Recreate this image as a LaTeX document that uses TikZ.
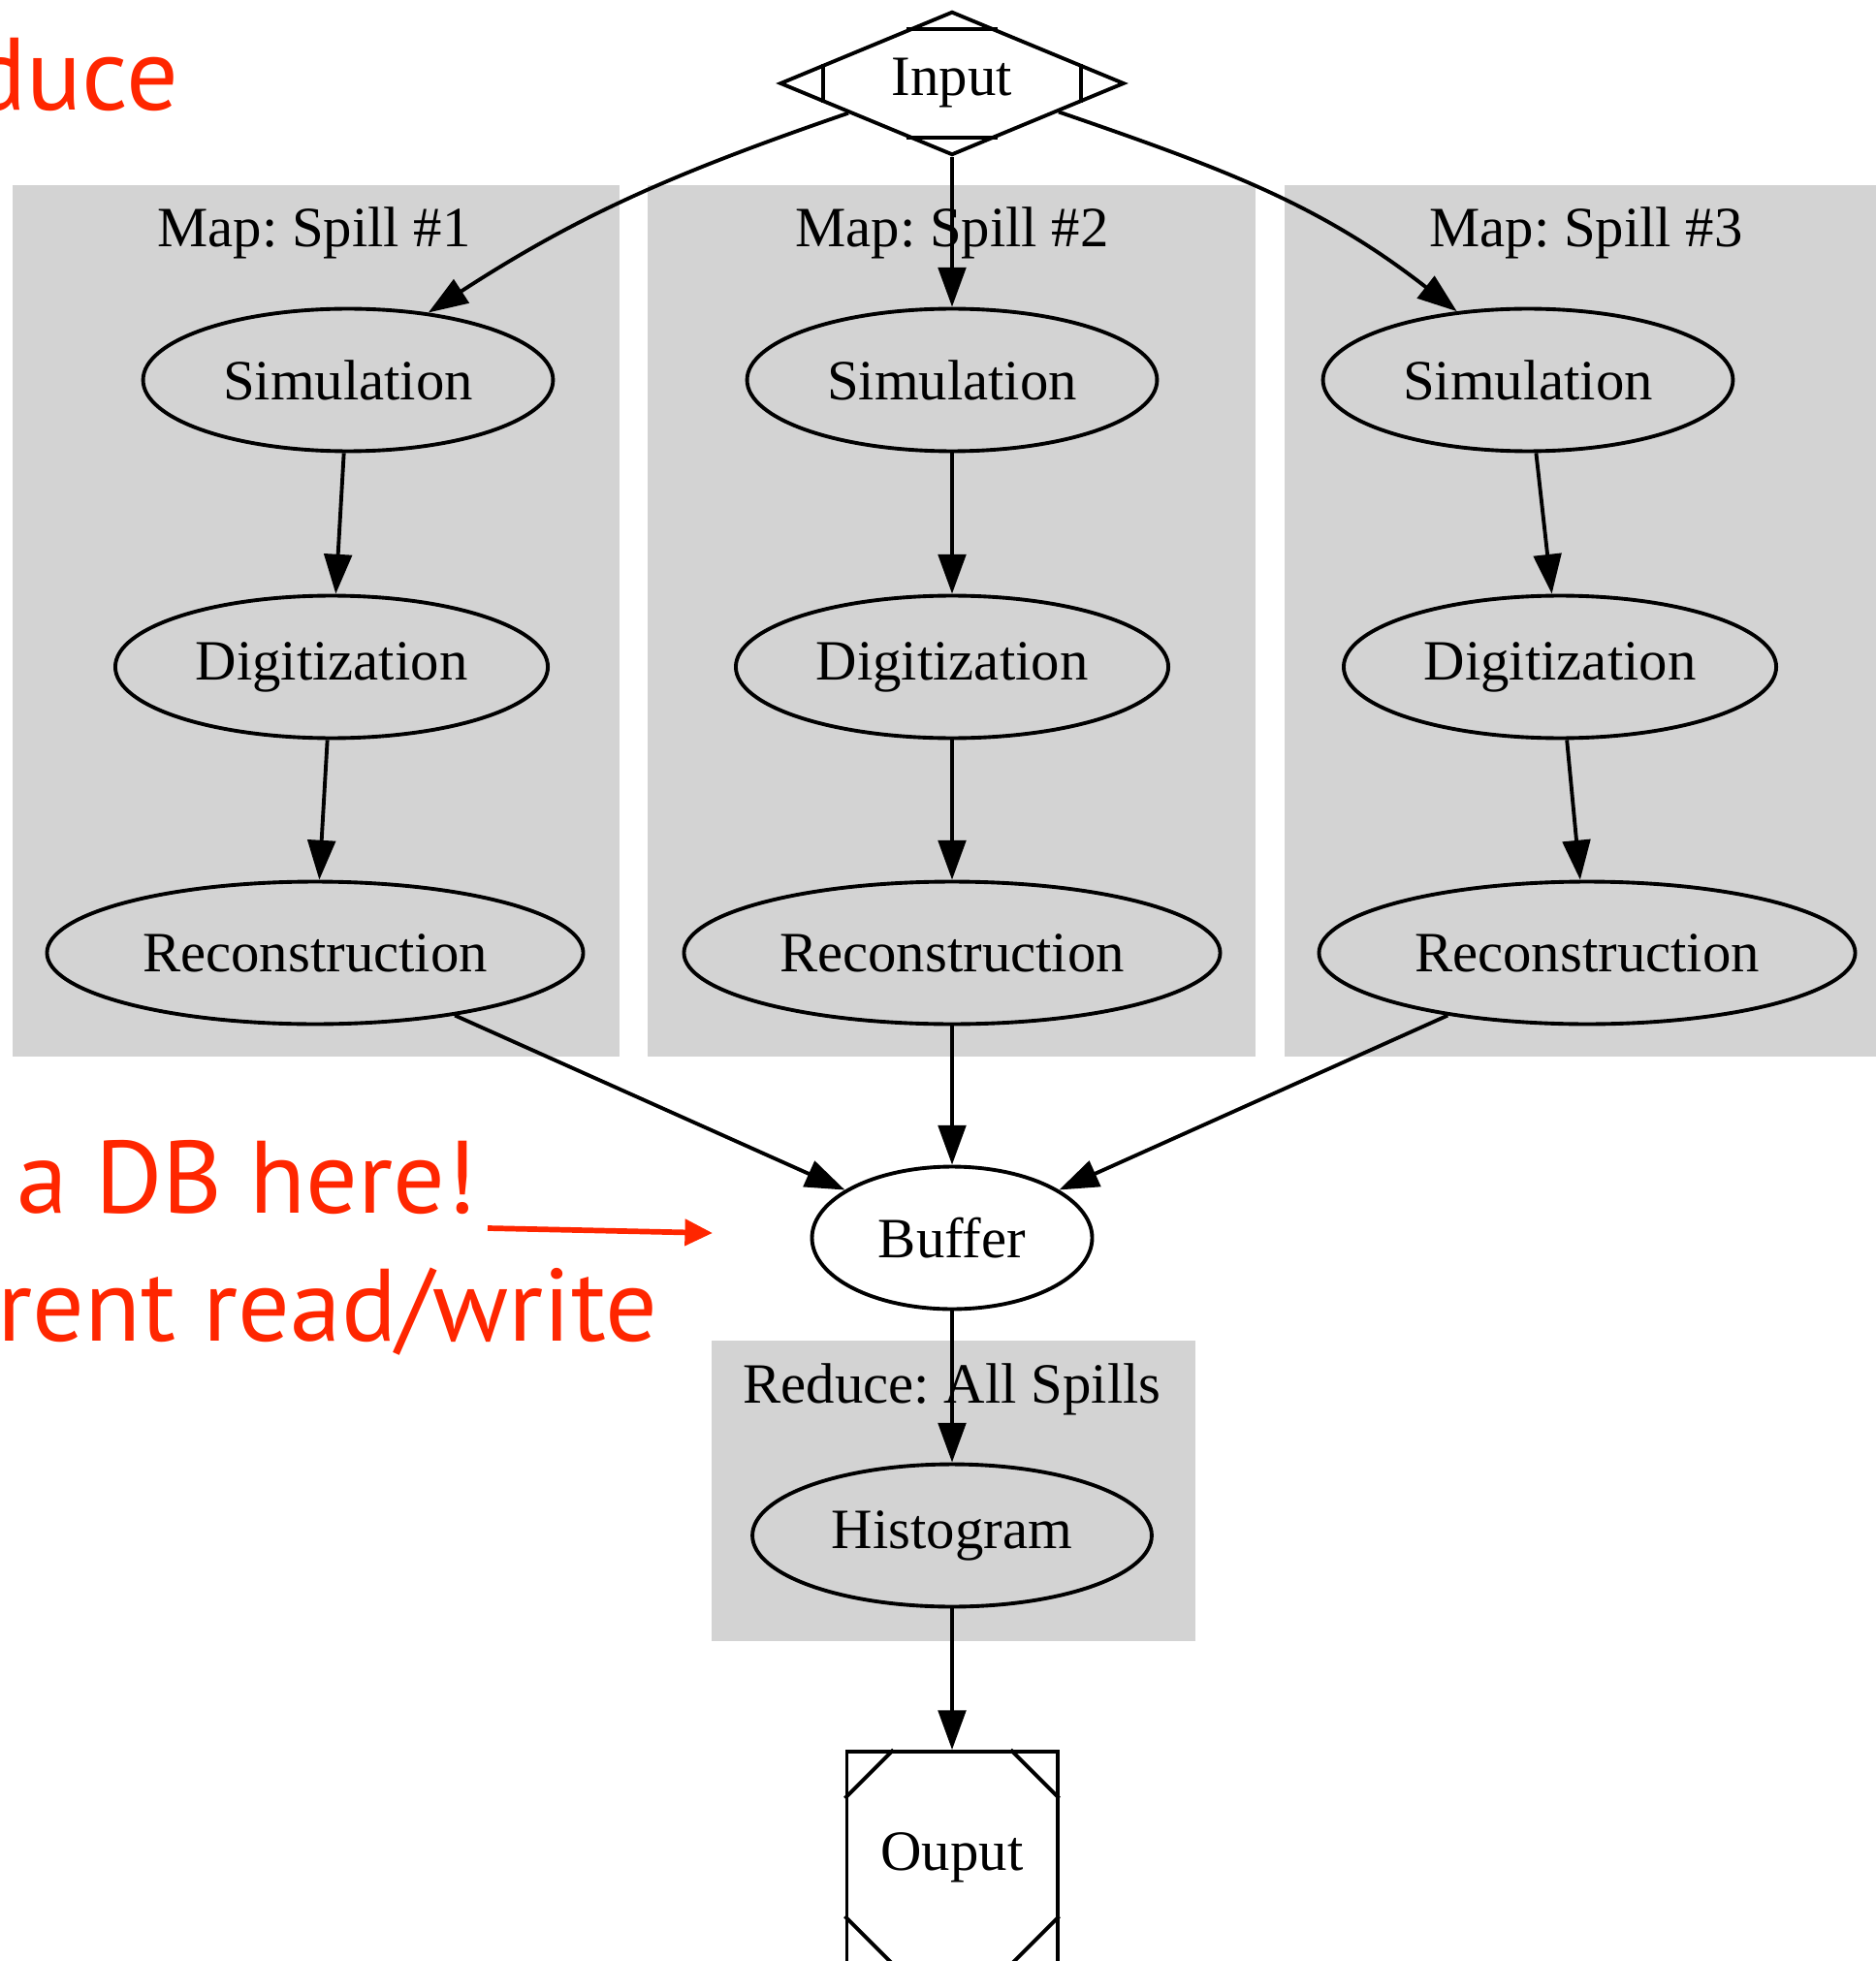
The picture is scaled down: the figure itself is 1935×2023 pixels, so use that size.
\documentclass[tikz,border=0pt]{standalone}
\usepackage{fontspec}
\setmainfont{Liberation Serif}
\newfontfamily\slidefont{PT Sans}
\usetikzlibrary{shapes.geometric,arrows.meta,calc}
\definecolor{slidered}{RGB}{255,38,0}
\definecolor{clustergray}{RGB}{211,211,211}
\frenchspacing

\begin{document}
\begin{tikzpicture}[x=0.245pt,y=-0.245pt,
		font=\fontsize{14.4}{17}\selectfont,
		line width=0.95pt,
		>={Triangle[length=10pt,width=7pt]},
		proc/.style={ellipse,draw,fill=clustergray,inner sep=0pt,minimum height=36pt},
		cluster/.style={fill=clustergray},
		rednote/.style={text=slidered,font=\slidefont\fontsize{26}{30}\selectfont,anchor=base east,inner sep=0pt}]
	\useasboundingbox (0,0) rectangle (1935,2023);

	\fill[cluster] (13,191) rectangle (639,1090);
	\fill[cluster] (668,191) rectangle (1295,1090);
	\fill[cluster] (1325,191) rectangle (1945,1090);
	\fill[cluster] (734,1383) rectangle (1233,1693);
	\node (lab1) at (324,240) {Map: Spill \#1};
	\node (lab2) at (982,240) {Map: Spill \#2};
	\node (lab3) at (1636,240) {Map: Spill \#3};
	\node (labr) at (982,1433) {Reduce: All Spills};

	\node[rednote] (ducetxt) at (186,114) {duce};
	\node[rednote] (dbtxt) at (494,1251) {a DB here!};
	\node[rednote] (rwtxt) at (680,1383) {rent read/write};
	\coordinate (dbtail) at (503,1267);
	\coordinate (dbhead) at (735,1272);
	\draw[slidered,line width=1.4pt,-{Triangle[length=7pt,width=6.5pt]}] (dbtail) -- (dbhead);

	\node[diamond,draw,fill=white,inner sep=0pt,aspect=2.4,minimum width=87pt,minimum height=36.3pt] (input) at (982,86) {Input};
	\draw ($(input.north)!0.26!(input.west)$) -- ($(input.north)!0.26!(input.east)$);
	\draw ($(input.south)!0.26!(input.west)$) -- ($(input.south)!0.26!(input.east)$);
	\draw ($(input.west)!0.26!(input.north)$) -- ($(input.west)!0.26!(input.south)$);
	\draw ($(input.east)!0.26!(input.north)$) -- ($(input.east)!0.26!(input.south)$);

	\node[proc,minimum width=103.6pt] (sim1) at (359,392) {Simulation};
	\node[proc,minimum width=109.3pt] (dig1) at (342,688) {Digitization};
	\node[proc,minimum width=135.5pt] (rec1) at (325,983) {Reconstruction};
	\node[proc,minimum width=103.6pt] (sim2) at (982,392) {Simulation};
	\node[proc,minimum width=109.3pt] (dig2) at (982,688) {Digitization};
	\node[proc,minimum width=135.5pt] (rec2) at (982,983) {Reconstruction};
	\node[proc,minimum width=103.6pt] (sim3) at (1576,392) {Simulation};
	\node[proc,minimum width=109.3pt] (dig3) at (1609,688) {Digitization};
	\node[proc,minimum width=135.5pt] (rec3) at (1637,983) {Reconstruction};
	\node[proc,fill=white,minimum width=70.8pt] (buffer) at (982,1277) {Buffer};
	\node[proc,minimum width=100.9pt] (hist) at (982,1584) {Histogram};

	\node[draw,fill=white,inner sep=0pt,minimum width=53.2pt,minimum height=53.4pt] (output) at (982,1916) {Ouput};
	\draw ($(output.north west)+(50,0)$) -- ($(output.north west)+(0,50)$);
	\draw ($(output.north east)+(-50,0)$) -- ($(output.north east)+(0,50)$);
	\draw ($(output.south west)+(50,0)$) -- ($(output.south west)+(0,-50)$);
	\draw ($(output.south east)+(-50,0)$) -- ($(output.south east)+(0,-50)$);

	\draw[->] (input.196) to[out=199,in=33] (sim1.40);
	\draw[->] (input) -- (sim2);
	\draw[->] (input.345) to[out=-19,in=142] (sim3.136);
	\draw[->] (sim1) -- (dig1);
	\draw[->] (dig1) -- (rec1);
	\draw[->] (sim2) -- (dig2);
	\draw[->] (dig2) -- (rec2);
	\draw[->] (sim3) -- (dig3);
	\draw[->] (dig3) -- (rec3);
	\draw[->] (rec1) -- (buffer);
	\draw[->] (rec2) -- (buffer);
	\draw[->] (rec3) -- (buffer);
	\draw[->] (buffer) -- (hist);
	\draw[->] (hist) -- (output);
\end{tikzpicture}
\end{document}
